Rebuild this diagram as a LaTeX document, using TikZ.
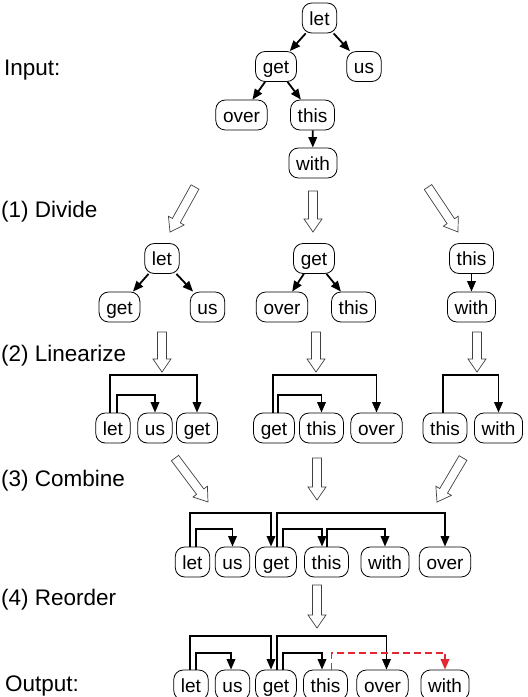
\documentclass[tikz,border=0pt]{standalone}
\usepackage{fontspec}
\setmainfont{Liberation Sans}
\usetikzlibrary{arrows.meta,calc}
\definecolor{dashred}{RGB}{228,40,50}
\newcommand\hollowarrow[2]{%
  \coordinate (hb) at ($(#2)!13pt!(#1)$);
  \path[hollow] ($(#1)!4.5pt!90:(#2)$) -- ($(hb)!4.5pt!90:(#2)$) -- ($(hb)!9pt!90:(#2)$) -- (#2)
    -- ($(hb)!9pt!-90:(#2)$) -- ($(hb)!4.5pt!-90:(#2)$) -- ($(#1)!4.5pt!-90:(#2)$) -- cycle;}
\begin{document}
\begin{tikzpicture}[x=1pt,y=-1pt,
  word/.style={draw, line width=0.8pt, rounded corners=9.5pt, minimum height=30pt,
    inner xsep=7.2pt, inner ysep=0pt, text height=14pt, text depth=0pt,
    font=\fontsize{19}{22}\selectfont},
  lbl/.style={anchor=base west, inner sep=0pt, font=\fontsize{22.5}{26}\selectfont},
  edge/.style={line width=1.8pt, -{Triangle[length=10.5pt,width=8.5pt]}},
  redge/.style={edge, dashred, line width=1.9pt, dash pattern=on 7pt off 4pt},
  hollow/.style={draw=black!75, line width=0.7pt, fill=white}]
\useasboundingbox (0,0) rectangle (528,697);

% labels
\node[lbl] (tInput) at (4,75) {Input:};
\node[lbl] (tDivide) at (1,217) {(1) Divide};
\node[lbl] (tLin) at (1,361) {(2) Linearize};
\node[lbl] (tComb) at (1,486) {(3) Combine};
\node[lbl] (tReord) at (1,605) {(4) Reorder};
\node[lbl] (tOut) at (5,691) {Output:};

% input tree
\node[word] (ilet) at (319.5,18) {let};
\node[word] (iget) at (276,66.5) {get};
\node[word] (ius) at (364,66.5) {us};
\node[word] (iover) at (241.5,115) {over};
\node[word] (ithis) at (312.5,115) {this};
\node[word] (iwith) at (313,163) {with};
\draw[edge] (ilet) -- (iget);
\draw[edge] (ilet) -- (ius);
\draw[edge] (iget) -- (iover);
\draw[edge] (iget) -- (ithis);
\draw[edge] (ithis) -- (iwith);

% divide arrows
\coordinate (dA1) at (195,187); \coordinate (dB1) at (170,232);
\coordinate (dA2) at (313,191); \coordinate (dB2) at (313,232);
\coordinate (dA3) at (428,187); \coordinate (dB3) at (458,232);
\hollowarrow{dA1}{dB1}
\hollowarrow{dA2}{dB2}
\hollowarrow{dA3}{dB3}

% divided trees
\node[word] (dlet) at (162,258.5) {let};
\node[word] (dget) at (119.5,307) {get};
\node[word] (dus) at (207.5,307) {us};
\draw[edge] (dlet) -- (dget);
\draw[edge] (dlet) -- (dus);
\node[word] (dget2) at (314,258.5) {get};
\node[word] (dover) at (282,307) {over};
\node[word] (dthis) at (353.5,307) {this};
\draw[edge] (dget2) -- (dover);
\draw[edge] (dget2) -- (dthis);
\node[word] (dthis3) at (471.5,258.5) {this};
\node[word] (dwith) at (471.5,307) {with};
\draw[edge] (dthis3) -- (dwith);

% linearize arrows
\coordinate (lA1) at (162,332); \coordinate (lB1) at (162,372);
\coordinate (lA2) at (316,332); \coordinate (lB2) at (316,372);
\coordinate (lA3) at (477,332); \coordinate (lB3) at (477,372);
\hollowarrow{lA1}{lB1}
\hollowarrow{lA2}{lB2}
\hollowarrow{lA3}{lB3}

% linearized sequences
\node[word] (llet) at (113,428) {let};
\node[word] (lus) at (155,428) {us};
\node[word] (lget) at (197,428) {get};
\draw[edge] ([xshift=-3pt]llet.north) -- ++(0,-38) -| (lget.north);
\draw[edge] ([xshift=4pt]llet.north) -- ++(0,-18) -| (lus.north);
\node[word] (lget2) at (274,428) {get};
\node[word] (lthis) at (321.5,428) {this};
\node[word] (lover) at (376.5,428) {over};
\draw[edge] ([xshift=-1pt]lget2.north) -- ++(0,-38) -| (lover.north);
\draw[edge] ([xshift=4pt]lget2.north) -- ++(0,-18) -| (lthis.north);
\node[word] (lthis3) at (445,428) {this};
\node[word] (lwith) at (498.5,428) {with};
\draw[edge] ([xshift=-2pt]lthis3.north) -- ++(0,-38) -| (lwith.north);

% combine arrows
\coordinate (cA1) at (175,458); \coordinate (cB1) at (208,502);
\coordinate (cA2) at (317,458); \coordinate (cB2) at (317,500);
\coordinate (cA3) at (463,458); \coordinate (cB3) at (437,502);
\hollowarrow{cA1}{cB1}
\hollowarrow{cA2}{cB2}
\hollowarrow{cA3}{cB3}

% combined sequence
\node[word] (clet) at (192.5,562) {let};
\node[word] (cus) at (232.5,562) {us};
\node[word] (cget) at (276,562) {get};
\node[word] (cthis) at (326.5,562) {this};
\node[word] (cwith) at (385,562) {with};
\node[word] (cover) at (445,562) {over};
\draw[edge] ([xshift=-2.5pt]clet.north) -- ++(0,-34) -| ([xshift=-5pt]cget.north);
\draw[edge] ([xshift=3.5pt]clet.north) -- ++(0,-18) -| (cus.north);
\draw[edge] ([xshift=1pt]cget.north) -- ++(0,-34) -| (cover.north);
\draw[edge] ([xshift=7pt]cget.north) -- ++(0,-18) -| ([xshift=-4.5pt]cthis.north);
\draw[edge] ([xshift=0.5pt]cthis.north) -- ++(0,-18) -| (cwith.north);

% reorder arrow
\coordinate (rA) at (317,585); \coordinate (rB) at (317,628);
\hollowarrow{rA}{rB}

% output sequence
\node[word] (olet) at (191,685) {let};
\node[word] (ous) at (232.5,685) {us};
\node[word] (oget) at (276,685) {get};
\node[word] (othis) at (325.5,685) {this};
\node[word] (oover) at (382.5,685) {over};
\node[word] (owith) at (445,685) {with};
\draw[edge] ([xshift=-1pt]olet.north) -- ++(0,-34) -| ([xshift=-5pt]oget.north);
\draw[edge] ([xshift=5pt]olet.north) -- ++(0,-17) -| ([xshift=-1.5pt]ous.north);
\draw[edge] ([xshift=1pt]oget.north) -- ++(0,-34) -| ([xshift=4pt]oover.north);
\draw[edge] ([xshift=7pt]oget.north) -- ++(0,-17) -| ([xshift=-3.5pt]othis.north);
\draw[redge] ([xshift=6pt]othis.north) -- ++(0,-17) -| (owith.north);
\end{tikzpicture}
\end{document}
